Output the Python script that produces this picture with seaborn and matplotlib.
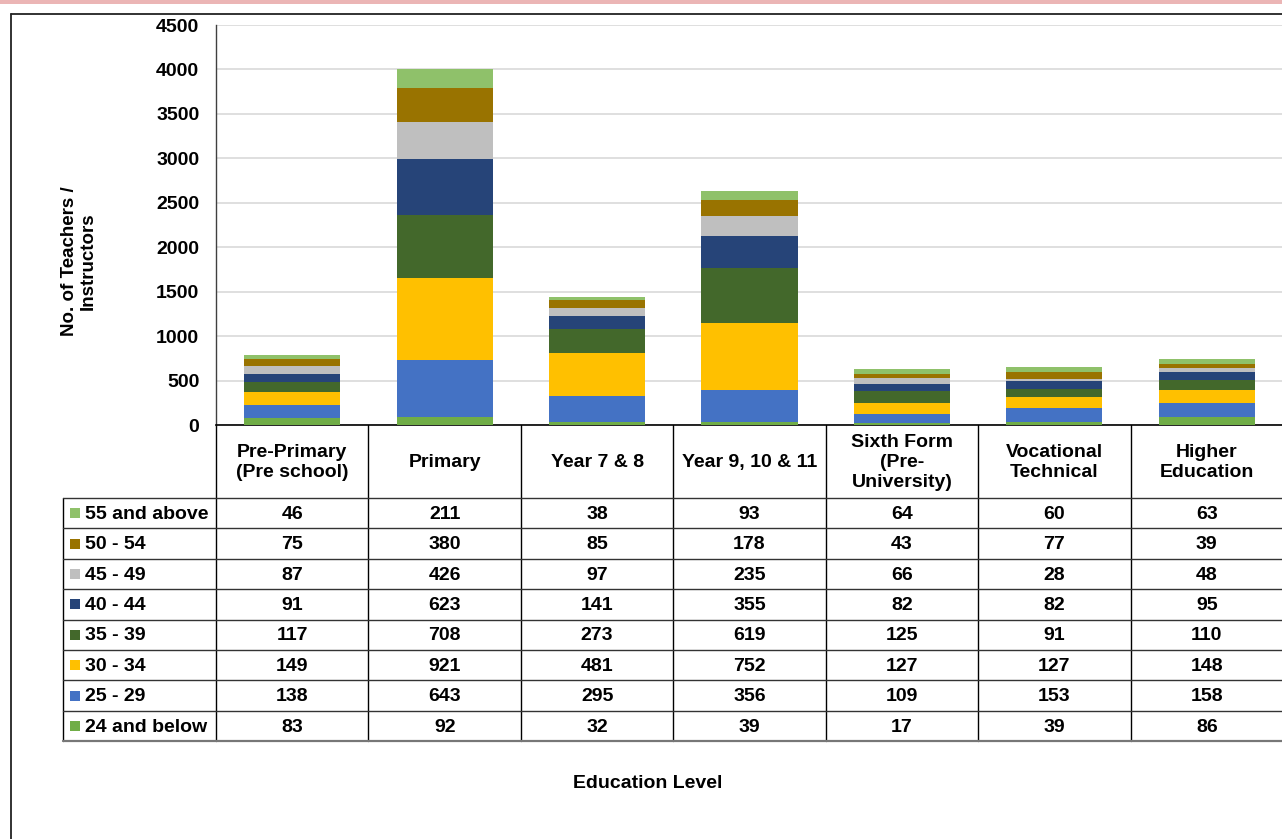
import numpy as np
import matplotlib
matplotlib.use("Agg")
import matplotlib.pyplot as plt
import seaborn as sns

levels = ["Pre-Primary\n(Pre school)", "Primary", "Year 7 & 8", "Year 9, 10 & 11",
          "Sixth Form\n(Pre-\nUniversity)", "Vocational\nTechnical", "Higher\nEducation"]

# age groups, bottom of the stack first
age_24_below = [83, 92, 32, 39, 17, 39, 86]
age_25_29 = [138, 643, 295, 356, 109, 153, 158]
age_30_34 = [149, 921, 481, 752, 127, 127, 148]
age_35_39 = [117, 708, 273, 619, 125, 91, 110]
age_40_44 = [91, 623, 141, 355, 82, 82, 95]
age_45_49 = [87, 426, 97, 235, 66, 28, 48]
age_50_54 = [75, 380, 85, 178, 43, 77, 39]
age_55_above = [46, 211, 38, 93, 64, 60, 63]

age_labels = ["24 and below", "25 - 29", "30 - 34", "35 - 39",
              "40 - 44", "45 - 49", "50 - 54", "55 and above"]
series = [age_24_below, age_25_29, age_30_34, age_35_39,
          age_40_44, age_45_49, age_50_54, age_55_above]
colors = ["#70AD47", "#4472C4", "#FFC000", "#43682B",
          "#264478", "#BFBFBF", "#997300", "#8FC16A"]

sns.set_theme(style="white")
plt.rcParams["font.family"] = ["Liberation Sans", "DejaVu Sans"]
plt.rcParams["font.weight"] = "bold"

W, H = 1282, 839
fig = plt.figure(figsize=(W / 100, H / 100), dpi=100)

# layout in pixels
ax_left, ax_right, ax_top, ax_bottom = 216, 1283, 25, 425
col_w = (ax_right - ax_left) / len(levels)
tbl_top = 498
row_h = 30.4
leg_left = 63
fs = 14

ax = fig.add_axes([ax_left / W, 1 - ax_bottom / H,
                   (ax_right - ax_left) / W, (ax_bottom - ax_top) / H])

# stacked bars: draw cumulative totals from the top layer down
cum = np.cumsum(np.array(series), axis=0)
for i in range(len(series) - 1, -1, -1):
    sns.barplot(x=list(range(len(levels))), y=cum[i], color=colors[i],
                saturation=1, width=0.63, linewidth=0, errorbar=None, ax=ax,
                zorder=3)

ax.set_xlim(-0.5, len(levels) - 0.5)
ax.set_ylim(0, 4500)
ax.set_yticks(range(0, 4501, 500))
ax.set_xticks([])
ax.set_xlabel("")
ax.set_ylabel("")
ax.grid(axis="y", color="#D9D9D9", linewidth=1.2, zorder=0)
ax.tick_params(axis="y", length=0, pad=12, labelsize=fs, labelcolor="black")
for lab in ax.get_yticklabels():
    lab.set_fontweight("bold")
for s in ["top", "right"]:
    ax.spines[s].set_visible(False)
ax.spines["left"].set_color("#404040")
ax.spines["bottom"].set_color("#000000")
ax.spines["left"].set_linewidth(1.0)
ax.spines["bottom"].set_linewidth(1.2)

# overlay in pixel coordinates for the data table and frame
ov = fig.add_axes([0, 0, 1, 1], zorder=-1)
ov.set_xlim(0, W)
ov.set_ylim(H, 0)
ov.axis("off")

# pink strip and chart frame
ov.fill_between([0, W], 0, 3.5, color="#EBB5B5", linewidth=0)
ov.plot([11, W], [14, 14], color="#222222", lw=1.3)
ov.plot([11, 11], [14, H], color="#222222", lw=1.3)

tbl_bottom = tbl_top + row_h * len(series)
for k in range(len(levels) + 1):
    x = ax_left + k * col_w
    ov.plot([x, x], [ax_bottom, tbl_bottom], color="black", lw=1.0)
ov.plot([leg_left, leg_left], [tbl_top, tbl_bottom], color="black", lw=1.0)
for r in range(len(series) + 1):
    y = tbl_top + r * row_h
    ov.plot([leg_left, W], [y, y], color="#333333" if r < len(series) else "#777777",
            lw=1.0 if r < len(series) else 1.6)

# header row
for k, name in enumerate(levels):
    ov.text(ax_left + (k + 0.5) * col_w, (ax_bottom + tbl_top) / 2 + 1, name,
            ha="center", va="center", fontsize=fs, fontweight="bold",
            linespacing=1.2, color="black")

# body rows, top row is the oldest group
for r in range(len(series)):
    idx = len(series) - 1 - r
    yc = tbl_top + (r + 0.5) * row_h
    ov.add_patch(plt.Rectangle((70, yc - 5), 10, 10, color=colors[idx], lw=0))
    ov.text(85, yc + 1, age_labels[idx], ha="left", va="center",
            fontsize=fs, fontweight="bold", color="black")
    for k, v in enumerate(series[idx]):
        ov.text(ax_left + (k + 0.5) * col_w, yc + 1, str(v), ha="center",
                va="center", fontsize=fs, fontweight="bold", color="black")

ov.text(79, 261, "No. of Teachers /\nInstructors", rotation=90, ha="center",
        va="center", fontsize=13.5, fontweight="bold", linespacing=1.15, color="black")
ov.text(648, 783, "Education Level", ha="center", va="center",
        fontsize=fs, fontweight="bold", color="black")

fig.savefig("out.png", dpi=100)
